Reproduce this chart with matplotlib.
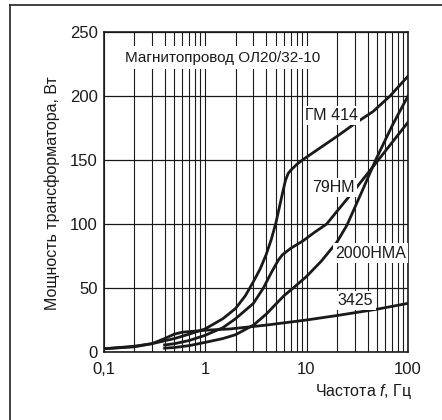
import matplotlib
matplotlib.use("Agg")
import matplotlib.pyplot as plt
from matplotlib.lines import Line2D
from matplotlib.ticker import NullFormatter, LogLocator

plt.rcParams['font.family'] = ['Liberation Sans', 'DejaVu Sans']
plt.rcParams['mathtext.fontset'] = 'custom'
plt.rcParams['mathtext.it'] = 'Liberation Sans:italic'
plt.rcParams['mathtext.rm'] = 'Liberation Sans'

# curves: frequency (Hz) and transformer power (W)
gm414_f = [0.1, 0.2, 0.3, 0.5, 0.7, 1.0, 1.5, 2.0, 2.5, 3.0, 3.5, 4.0, 4.5, 5.0,
           5.4, 5.8, 6.2, 6.6, 7.0, 8.0, 9.3, 12, 20, 30, 45.5, 66.5, 100]
gm414_p = [2.5, 4.5, 6.5, 10.5, 14, 18, 26, 34, 44, 55, 65, 76, 88, 101,
           113, 124, 134, 139.5, 142, 146.5, 150.5, 156.5, 168.5, 178.5, 188, 200, 215.5]

nm79_f = [0.4, 0.5, 0.7, 1.0, 1.5, 2.0, 3.0, 3.76, 4.5, 5.3, 5.8, 7.0, 9.3, 12,
          15.8, 20, 30, 51, 100]
nm79_p = [5.5, 6.5, 9, 13, 19, 26, 38, 50, 62, 72, 76, 81, 87, 93.5,
          100, 110, 127, 150, 179.5]

nma2000_f = [0.4, 0.5, 0.7, 1.0, 1.5, 2.0, 3.0, 4.0, 5.0, 6.0, 7.4, 10, 14, 20,
             25, 35, 48, 70, 100]
nma2000_p = [3, 3.5, 5, 7.5, 10.5, 13.5, 21, 29.5, 37.5, 44, 50, 59, 71, 86,
             99, 125, 150, 177, 200]

s3425_f = [0.1, 0.2, 0.3, 0.4, 0.5, 0.6, 0.8, 1.0, 1.76, 4.0, 10, 20, 50, 100]
s3425_p = [2.5, 4, 6.5, 10.5, 14, 15.5, 16.3, 17, 18, 21, 25, 28.5, 33.5, 38]

x_ticks = [0.1, 1, 10, 100]
x_ticklabels = ['0,1', '1', '10', '100']
y_ticks = [0, 50, 100, 150, 200, 250]

fig = plt.figure(figsize=(4.42, 4.2), dpi=100)
ax = fig.add_axes([103.5 / 442, 68 / 420, 304.5 / 442, 320 / 420])

ink = '#1a1a1a'
for f, p in [(gm414_f, gm414_p), (nm79_f, nm79_p),
             (nma2000_f, nma2000_p), (s3425_f, s3425_p)]:
    ax.plot(f, p, color=ink, lw=2.0, solid_joinstyle='round', zorder=2.5)

ax.set_xscale('log')
ax.set_xlim(0.1, 100)
ax.set_ylim(0, 250)
ax.set_xticks(x_ticks)
ax.set_xticklabels(x_ticklabels)
ax.xaxis.set_minor_locator(LogLocator(base=10, subs=range(2, 10)))
ax.xaxis.set_minor_formatter(NullFormatter())
ax.set_yticks(y_ticks)
ax.tick_params(which='both', length=0, labelsize=12, colors=ink)
ax.tick_params(axis='x', pad=7.5)
ax.tick_params(axis='y', pad=4)

ax.grid(which='both', axis='x', color=ink, lw=0.8)
ax.grid(which='major', axis='y', color=ink, lw=0.9)
for sp in ax.spines.values():
    sp.set_linewidth(1.2)
    sp.set_color(ink)

box = dict(facecolor='white', edgecolor='none', pad=3)
small_box = dict(facecolor='white', edgecolor='none', pad=1.5)
ax.text(0.163, 230, 'Магнитопровод ОЛ20/32-10', fontsize=11, ha='left', va='center',
        color=ink, bbox=box, zorder=4)
ax.text(9.66, 185, 'ГМ 414', fontsize=11.5, ha='left', va='center', color=ink,
        bbox=small_box, zorder=4)
ax.text(11.3, 128.5, '79НМ', fontsize=11.5, ha='left', va='center', color=ink,
        bbox=small_box, zorder=4)
ax.text(19.1, 77.3, '2000НМА', fontsize=11.5, ha='left', va='center', color=ink,
        bbox=small_box, zorder=4)
ax.text(20.4, 40.5, '3425', fontsize=11.5, ha='left', va='center', color=ink,
        bbox=small_box, zorder=4)

fig.text(52 / 442, 1 - 193.5 / 420, 'Мощность трансформатора, Вт', rotation=90,
         ha='center', va='center', fontsize=11.5, color=ink)
fig.text(412 / 442, 1 - 391.7 / 420, 'Частота $\\mathit{f}$, Гц',
         ha='right', va='center', fontsize=11.5, color=ink)

# outer frame (only top and left edges are inside the picture)
fig.add_artist(Line2D([10 / 442, 10 / 442], [0, 1 - 5 / 420], transform=fig.transFigure,
                      color='#333333', lw=1.3))
fig.add_artist(Line2D([10 / 442, 1], [1 - 5 / 420, 1 - 5 / 420], transform=fig.transFigure,
                      color='#333333', lw=1.3))

fig.savefig('out.png', dpi=100)
